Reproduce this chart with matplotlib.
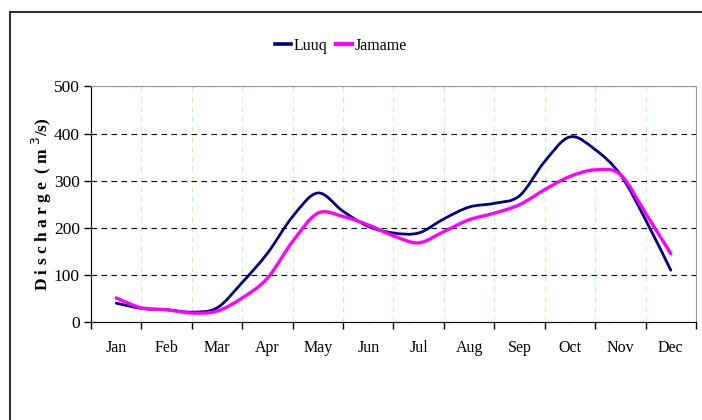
import numpy as np
import matplotlib.pyplot as plt
from matplotlib.patches import Rectangle, PathPatch
from matplotlib.path import Path
from matplotlib.lines import Line2D

months = ['Jan', 'Feb', 'Mar', 'Apr', 'May', 'Jun',
          'Jul', 'Aug', 'Sep', 'Oct', 'Nov', 'Dec']

# readings every half month, from mid-Jan to mid-Dec
half_month = np.arange(0, 11.5, 0.5)
luuq = [40, 29, 26, 21, 30, 84, 146, 224, 274, 235, 203, 189,
        189, 219, 244, 252, 268, 341, 393, 366, 313, 217, 110]
jamame = [51, 30, 26, 19, 23, 51, 93, 171, 231, 224, 206, 183,
          168, 192, 217, 231, 249, 281, 309, 323, 313, 231, 145]


def smooth_path(x, y):
    # Excel-style smoothed line: cubic bezier segments through the points
    p = np.column_stack([x, y]).astype(float)
    verts = [p[0]]
    codes = [Path.MOVETO]
    n = len(p)
    for i in range(n - 1):
        p0 = p[i - 1] if i > 0 else p[i]
        p3 = p[i + 2] if i + 2 < n else p[i + 1]
        c1 = p[i] + (p[i + 1] - p0) / 6
        c2 = p[i + 1] - (p3 - p[i]) / 6
        verts += [c1, c2, p[i + 1]]
        codes += [Path.CURVE4] * 3
    return Path(verts, codes)


plt.rcParams['font.family'] = ['Liberation Serif', 'DejaVu Serif']

fig = plt.figure(figsize=(7.02, 4.2), dpi=100)
ax = fig.add_axes([91 / 702, 1 - 322 / 420, 605 / 702, 235.5 / 420])

# outer frame of the chart area (runs off the right and bottom)
fig.patches.append(Rectangle((9.5 / 702, -0.2), 2, 1.2 - 12 / 420,
                             transform=fig.transFigure, fill=False,
                             edgecolor='#333333', linewidth=1.5))

series = [('Luuq', luuq, '#000080', 2.0), ('Jamame', jamame, '#ff00ff', 2.4)]
handles = []
for name, vals, col, lw in series:
    ax.add_patch(PathPatch(smooth_path(half_month, vals), facecolor='none',
                           edgecolor=col, linewidth=lw, capstyle='round',
                           joinstyle='round', zorder=3))
    handles.append(Line2D([], [], color=col, linewidth=lw + 0.6, label=name))

ax.set_xlim(-0.5, 11.5)
ax.set_ylim(0, 500)
ax.set_yticks(np.arange(0, 501, 100))

ax.set_xticks(np.arange(-0.5, 12, 1))
ax.set_xticklabels([])
ax.set_xticks(np.arange(12), minor=True)
ax.set_xticklabels(months, minor=True, fontsize=11.5)
ax.tick_params(axis='x', which='minor', length=0, pad=13)
ax.tick_params(axis='x', which='major', length=5, width=1, direction='out')
ax.tick_params(axis='y', length=5, width=1, labelsize=12.5, pad=3)

ax.grid(axis='y', color='black', linestyle=(0, (5, 4)), linewidth=0.8)
ax.grid(axis='x', which='major', color='#c8f5c8', linestyle=(0, (5, 4)), linewidth=0.8)
ax.set_axisbelow(True)

for side in ['top', 'right']:
    ax.spines[side].set_color('#999999')
for side in ['left', 'bottom']:
    ax.spines[side].set_color('black')

fig.text(42 / 702, 1 - 204 / 420, 'D i s c h a r g e  ( m $^{3}$/s)',
         rotation=90, ha='center', va='center', fontsize=12.5, fontweight='bold')

ax.legend(handles=handles, loc='center', bbox_to_anchor=(341 / 702, 1 - 46 / 420),
          bbox_transform=fig.transFigure, ncol=2, frameon=False,
          fontsize=11.5, handlelength=1.0, handletextpad=0.2, columnspacing=0.5)

fig.savefig('out.png', dpi=100)
